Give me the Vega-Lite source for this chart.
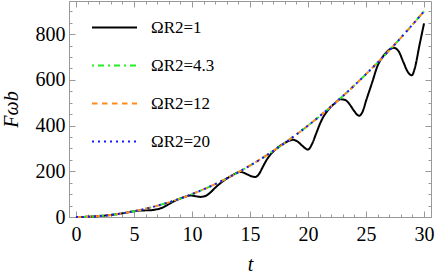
{
  "$schema": "https://vega.github.io/schema/vega-lite/v6.json",
  "width": 362,
  "height": 216,
  "autosize": {"type": "none"},
  "padding": {"left": 69, "top": 1, "right": 5, "bottom": 56},
  "background": "white",
  "config": {
    "font": "'Liberation Serif', 'DejaVu Serif', serif",
    "view": {"stroke": "#999999", "strokeWidth": 1},
    "axis": {
      "domain": false,
      "grid": false,
      "tickColor": "#999999",
      "tickWidth": 1,
      "labelFont": "'Liberation Serif', 'DejaVu Serif', serif",
      "labelFontSize": 20,
      "labelColor": "black",
      "titleFont": "'Liberation Serif', 'DejaVu Serif', serif",
      "titleFontSize": 20,
      "titleFontWeight": "normal",
      "titleFontStyle": "italic",
      "titleColor": "black",
      "labelOverlap": false
    },
    "legend": {
      "labelFont": "'Liberation Serif', 'DejaVu Serif', serif",
      "labelFontSize": 17,
      "labelColor": "black"
    }
  },
  "data": {"values": [
      {"t": 0, "F": 0, "s": "ΩR2=1"},
      {"t": 1, "F": 1, "s": "ΩR2=1"},
      {"t": 2, "F": 4, "s": "ΩR2=1"},
      {"t": 3, "F": 9, "s": "ΩR2=1"},
      {"t": 4, "F": 16, "s": "ΩR2=1"},
      {"t": 5, "F": 25, "s": "ΩR2=1"},
      {"t": 5.5, "F": 28, "s": "ΩR2=1"},
      {"t": 6, "F": 29, "s": "ΩR2=1"},
      {"t": 6.5, "F": 30, "s": "ΩR2=1"},
      {"t": 7, "F": 34, "s": "ΩR2=1"},
      {"t": 7.5, "F": 42, "s": "ΩR2=1"},
      {"t": 8, "F": 56, "s": "ΩR2=1"},
      {"t": 8.5, "F": 70, "s": "ΩR2=1"},
      {"t": 9, "F": 81, "s": "ΩR2=1"},
      {"t": 9.5, "F": 90, "s": "ΩR2=1"},
      {"t": 9.8, "F": 94, "s": "ΩR2=1"},
      {"t": 10.2, "F": 92, "s": "ΩR2=1"},
      {"t": 10.7, "F": 88, "s": "ΩR2=1"},
      {"t": 11.2, "F": 93, "s": "ΩR2=1"},
      {"t": 11.6, "F": 108, "s": "ΩR2=1"},
      {"t": 12, "F": 128, "s": "ΩR2=1"},
      {"t": 12.4, "F": 146, "s": "ΩR2=1"},
      {"t": 12.9, "F": 165, "s": "ΩR2=1"},
      {"t": 13.4, "F": 180, "s": "ΩR2=1"},
      {"t": 13.8, "F": 192, "s": "ΩR2=1"},
      {"t": 14.1, "F": 197, "s": "ΩR2=1"},
      {"t": 14.5, "F": 193, "s": "ΩR2=1"},
      {"t": 14.9, "F": 183, "s": "ΩR2=1"},
      {"t": 15.2, "F": 177, "s": "ΩR2=1"},
      {"t": 15.45, "F": 175, "s": "ΩR2=1"},
      {"t": 15.8, "F": 190, "s": "ΩR2=1"},
      {"t": 16.1, "F": 219, "s": "ΩR2=1"},
      {"t": 16.5, "F": 255, "s": "ΩR2=1"},
      {"t": 16.85, "F": 278, "s": "ΩR2=1"},
      {"t": 17.3, "F": 300, "s": "ΩR2=1"},
      {"t": 17.8, "F": 318, "s": "ΩR2=1"},
      {"t": 18.3, "F": 332, "s": "ΩR2=1"},
      {"t": 18.7, "F": 338, "s": "ΩR2=1"},
      {"t": 19.1, "F": 330, "s": "ΩR2=1"},
      {"t": 19.5, "F": 312, "s": "ΩR2=1"},
      {"t": 20, "F": 295, "s": "ΩR2=1"},
      {"t": 20.35, "F": 320, "s": "ΩR2=1"},
      {"t": 20.7, "F": 365, "s": "ΩR2=1"},
      {"t": 21.05, "F": 410, "s": "ΩR2=1"},
      {"t": 21.4, "F": 445, "s": "ΩR2=1"},
      {"t": 21.8, "F": 472, "s": "ΩR2=1"},
      {"t": 22.3, "F": 497, "s": "ΩR2=1"},
      {"t": 22.8, "F": 515, "s": "ΩR2=1"},
      {"t": 23.2, "F": 512, "s": "ΩR2=1"},
      {"t": 23.6, "F": 492, "s": "ΩR2=1"},
      {"t": 24, "F": 462, "s": "ΩR2=1"},
      {"t": 24.4, "F": 443, "s": "ΩR2=1"},
      {"t": 24.7, "F": 460, "s": "ΩR2=1"},
      {"t": 25, "F": 508, "s": "ΩR2=1"},
      {"t": 25.5, "F": 584, "s": "ΩR2=1"},
      {"t": 26, "F": 662, "s": "ΩR2=1"},
      {"t": 26.5, "F": 705, "s": "ΩR2=1"},
      {"t": 27, "F": 732, "s": "ΩR2=1"},
      {"t": 27.4, "F": 740, "s": "ΩR2=1"},
      {"t": 27.8, "F": 726, "s": "ΩR2=1"},
      {"t": 28.2, "F": 680, "s": "ΩR2=1"},
      {"t": 28.6, "F": 635, "s": "ΩR2=1"},
      {"t": 28.95, "F": 620, "s": "ΩR2=1"},
      {"t": 29.2, "F": 650, "s": "ΩR2=1"},
      {"t": 29.6, "F": 750, "s": "ΩR2=1"},
      {"t": 30, "F": 847, "s": "ΩR2=1"},
      {"t": 0, "F": 0, "s": "ΩR2=4.3"}, {"t": 1, "F": 1, "s": "ΩR2=4.3"}, {"t": 2, "F": 4, "s": "ΩR2=4.3"}, {"t": 3, "F": 9, "s": "ΩR2=4.3"},
      {"t": 4, "F": 16, "s": "ΩR2=4.3"}, {"t": 5, "F": 25, "s": "ΩR2=4.3"}, {"t": 6, "F": 36, "s": "ΩR2=4.3"}, {"t": 7, "F": 49, "s": "ΩR2=4.3"},
      {"t": 8, "F": 64, "s": "ΩR2=4.3"}, {"t": 9, "F": 81, "s": "ΩR2=4.3"}, {"t": 10, "F": 100, "s": "ΩR2=4.3"}, {"t": 11, "F": 121, "s": "ΩR2=4.3"},
      {"t": 12, "F": 144, "s": "ΩR2=4.3"}, {"t": 13, "F": 169, "s": "ΩR2=4.3"}, {"t": 14, "F": 196, "s": "ΩR2=4.3"}, {"t": 15, "F": 225, "s": "ΩR2=4.3"},
      {"t": 16, "F": 256, "s": "ΩR2=4.3"}, {"t": 17, "F": 289, "s": "ΩR2=4.3"}, {"t": 18, "F": 324, "s": "ΩR2=4.3"}, {"t": 19, "F": 361, "s": "ΩR2=4.3"},
      {"t": 20, "F": 400, "s": "ΩR2=4.3"}, {"t": 21, "F": 441, "s": "ΩR2=4.3"}, {"t": 22, "F": 484, "s": "ΩR2=4.3"}, {"t": 23, "F": 529, "s": "ΩR2=4.3"},
      {"t": 24, "F": 576, "s": "ΩR2=4.3"}, {"t": 25, "F": 625, "s": "ΩR2=4.3"}, {"t": 26, "F": 676, "s": "ΩR2=4.3"}, {"t": 27, "F": 729, "s": "ΩR2=4.3"},
      {"t": 28, "F": 784, "s": "ΩR2=4.3"}, {"t": 29, "F": 841, "s": "ΩR2=4.3"}, {"t": 30, "F": 900, "s": "ΩR2=4.3"},
      {"t": 0, "F": 0, "s": "ΩR2=12"}, {"t": 1, "F": 1, "s": "ΩR2=12"}, {"t": 2, "F": 4, "s": "ΩR2=12"}, {"t": 3, "F": 9, "s": "ΩR2=12"},
      {"t": 4, "F": 16, "s": "ΩR2=12"}, {"t": 5, "F": 25, "s": "ΩR2=12"}, {"t": 6, "F": 36, "s": "ΩR2=12"}, {"t": 7, "F": 49, "s": "ΩR2=12"},
      {"t": 8, "F": 64, "s": "ΩR2=12"}, {"t": 9, "F": 81, "s": "ΩR2=12"}, {"t": 10, "F": 100, "s": "ΩR2=12"}, {"t": 11, "F": 121, "s": "ΩR2=12"},
      {"t": 12, "F": 144, "s": "ΩR2=12"}, {"t": 13, "F": 169, "s": "ΩR2=12"}, {"t": 14, "F": 196, "s": "ΩR2=12"}, {"t": 15, "F": 225, "s": "ΩR2=12"},
      {"t": 16, "F": 256, "s": "ΩR2=12"}, {"t": 17, "F": 289, "s": "ΩR2=12"}, {"t": 18, "F": 324, "s": "ΩR2=12"}, {"t": 19, "F": 361, "s": "ΩR2=12"},
      {"t": 20, "F": 400, "s": "ΩR2=12"}, {"t": 21, "F": 441, "s": "ΩR2=12"}, {"t": 22, "F": 484, "s": "ΩR2=12"}, {"t": 23, "F": 529, "s": "ΩR2=12"},
      {"t": 24, "F": 576, "s": "ΩR2=12"}, {"t": 25, "F": 625, "s": "ΩR2=12"}, {"t": 26, "F": 676, "s": "ΩR2=12"}, {"t": 27, "F": 729, "s": "ΩR2=12"},
      {"t": 28, "F": 784, "s": "ΩR2=12"}, {"t": 29, "F": 841, "s": "ΩR2=12"}, {"t": 30, "F": 900, "s": "ΩR2=12"},
      {"t": 0, "F": 0, "s": "ΩR2=20"}, {"t": 1, "F": 1, "s": "ΩR2=20"}, {"t": 2, "F": 4, "s": "ΩR2=20"}, {"t": 3, "F": 9, "s": "ΩR2=20"},
      {"t": 4, "F": 16, "s": "ΩR2=20"}, {"t": 5, "F": 25, "s": "ΩR2=20"}, {"t": 6, "F": 36, "s": "ΩR2=20"}, {"t": 7, "F": 49, "s": "ΩR2=20"},
      {"t": 8, "F": 64, "s": "ΩR2=20"}, {"t": 9, "F": 81, "s": "ΩR2=20"}, {"t": 10, "F": 100, "s": "ΩR2=20"}, {"t": 11, "F": 121, "s": "ΩR2=20"},
      {"t": 12, "F": 144, "s": "ΩR2=20"}, {"t": 13, "F": 169, "s": "ΩR2=20"}, {"t": 14, "F": 196, "s": "ΩR2=20"}, {"t": 15, "F": 225, "s": "ΩR2=20"},
      {"t": 16, "F": 256, "s": "ΩR2=20"}, {"t": 17, "F": 289, "s": "ΩR2=20"}, {"t": 18, "F": 324, "s": "ΩR2=20"}, {"t": 19, "F": 361, "s": "ΩR2=20"},
      {"t": 20, "F": 400, "s": "ΩR2=20"}, {"t": 21, "F": 441, "s": "ΩR2=20"}, {"t": 22, "F": 484, "s": "ΩR2=20"}, {"t": 23, "F": 529, "s": "ΩR2=20"},
      {"t": 24, "F": 576, "s": "ΩR2=20"}, {"t": 25, "F": 625, "s": "ΩR2=20"}, {"t": 26, "F": 676, "s": "ΩR2=20"}, {"t": 27, "F": 729, "s": "ΩR2=20"},
      {"t": 28, "F": 784, "s": "ΩR2=20"}, {"t": 29, "F": 841, "s": "ΩR2=20"}, {"t": 30, "F": 900, "s": "ΩR2=20"}
  ]},
  "resolve": {"axis": {"x": "independent", "y": "independent"}},
  "layer": [
    {
      "mark": {"type": "line", "strokeWidth": 2, "interpolate": "monotone"},
      "encoding": {
        "x": {
          "field": "t", "type": "quantitative",
          "scale": {"domain": [-0.6, 30.6], "nice": false, "zero": false},
          "axis": {
            "orient": "bottom",
            "values": [0, 5, 10, 15, 20, 25, 30],
            "tickSize": -6,
            "labelPadding": 13,
            "labelOverlap": false,
            "title": "t",
            "titlePadding": 10
          }
        },
        "y": {
          "field": "F", "type": "quantitative",
          "scale": {"domain": [0, 945], "nice": false, "zero": false},
          "axis": {
            "orient": "left",
            "values": [0, 200, 400, 600, 800],
            "tickSize": -6,
            "labelPadding": 10,
            "labelOverlap": false,
            "title": "Fωb",
            "titlePadding": 14
          }
        },
        "color": {
          "field": "s", "type": "nominal",
          "scale": {
            "domain": ["ΩR2=1", "ΩR2=4.3", "ΩR2=12", "ΩR2=20"],
            "range": ["#000000", "#22ee22", "#ff8c1a", "#1a1aff"]
          },
          "legend": {
            "orient": "none",
            "legendX": 22,
            "legendY": 3,
            "title": null,
            "symbolType": "stroke",
            "symbolSize": 2025,
            "symbolStrokeWidth": 2,
            "labelOffset": 13,
            "rowPadding": 6
          }
        },
        "strokeDash": {
          "field": "s", "type": "nominal",
          "scale": {
            "domain": ["ΩR2=1", "ΩR2=4.3", "ΩR2=12", "ΩR2=20"],
            "range": [[1, 0], [2, 4, 6, 4], [5.5, 4.5], [2, 4]]
          },
          "legend": null
        }
      }
    },
    {
      "mark": {"type": "line", "opacity": 0},
      "encoding": {
        "x": {
          "field": "t", "type": "quantitative",
          "axis": {"orient": "bottom", "values": [0,1,2,3,4,5,6,7,8,9,10,11,12,13,14,15,16,17,18,19,20,21,22,23,24,25,26,27,28,29,30], "tickSize": -3, "labels": false, "title": null}
        },
        "y": {
          "field": "F", "type": "quantitative",
          "axis": {"orient": "left", "values": [0,50,100,150,200,250,300,350,400,450,500,550,600,650,700,750,800,850,900], "tickSize": -3, "labels": false, "title": null}
        }
      }
    },
    {
      "mark": {"type": "line", "opacity": 0},
      "encoding": {
        "x": {
          "field": "t", "type": "quantitative",
          "axis": {"orient": "top", "values": [0, 5, 10, 15, 20, 25, 30], "tickSize": -6, "labels": false, "title": null}
        },
        "y": {
          "field": "F", "type": "quantitative",
          "axis": {"orient": "right", "values": [0, 200, 400, 600, 800], "tickSize": -6, "labels": false, "title": null}
        }
      }
    },
    {
      "mark": {"type": "line", "opacity": 0},
      "encoding": {
        "x": {
          "field": "t", "type": "quantitative",
          "axis": {"orient": "top", "values": [0,1,2,3,4,5,6,7,8,9,10,11,12,13,14,15,16,17,18,19,20,21,22,23,24,25,26,27,28,29,30], "tickSize": -3, "labels": false, "title": null}
        },
        "y": {
          "field": "F", "type": "quantitative",
          "axis": {"orient": "right", "values": [0,50,100,150,200,250,300,350,400,450,500,550,600,650,700,750,800,850,900], "tickSize": -3, "labels": false, "title": null}
        }
      }
    }
  ]
}
